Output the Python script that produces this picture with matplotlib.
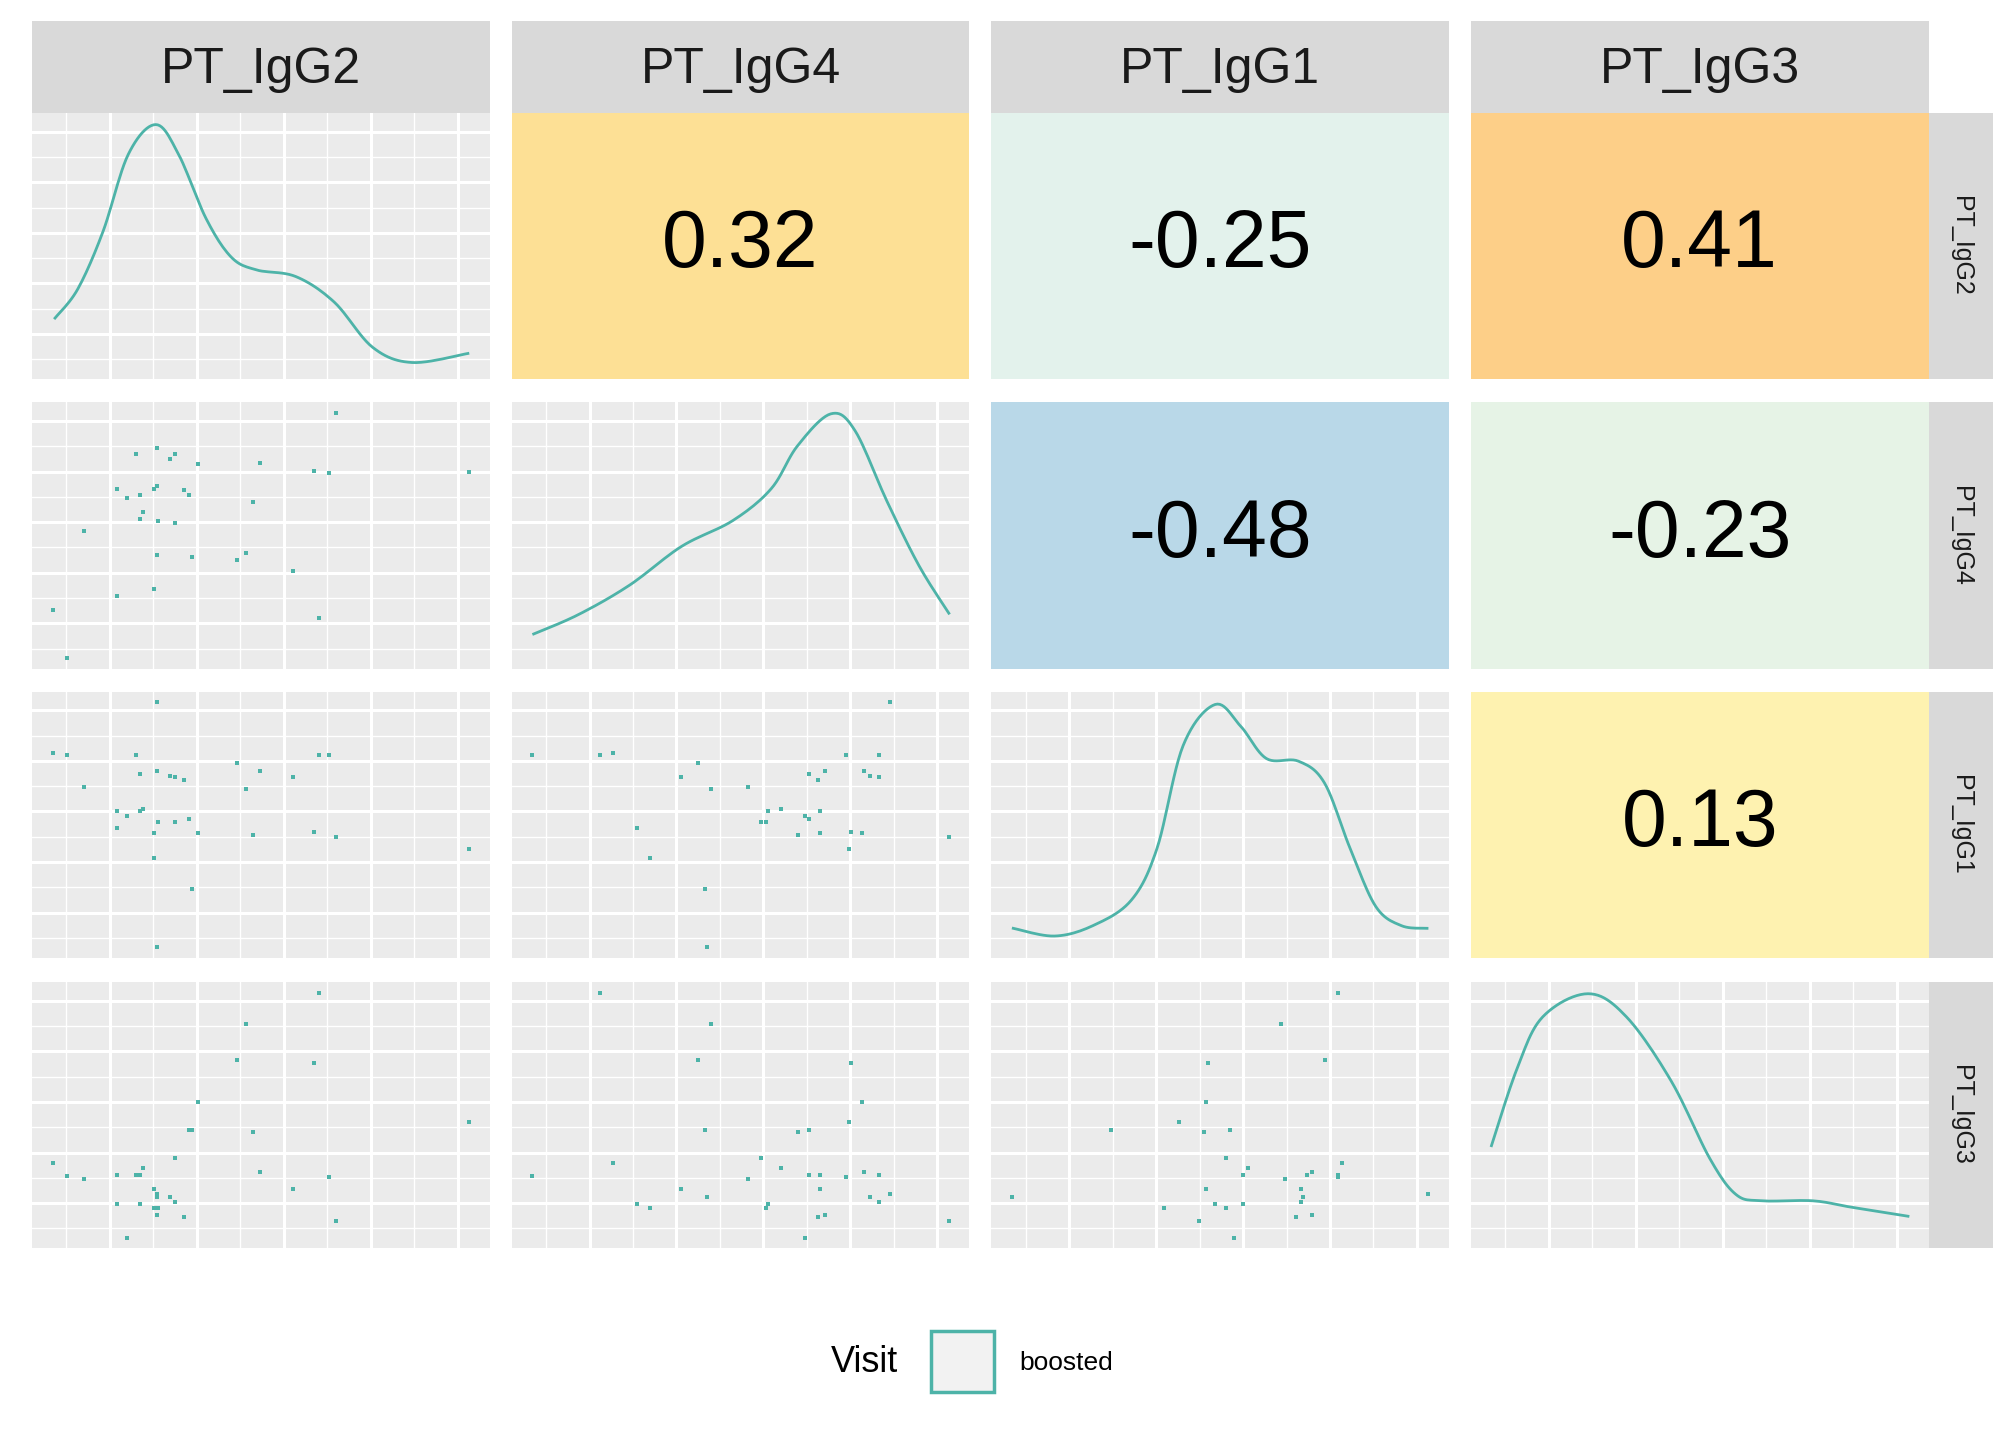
import numpy as np
from matplotlib import pyplot as plt
from matplotlib.patches import Rectangle

plt.rcParams['font.family'] = ['Liberation Sans', 'DejaVu Sans']

names = ['PT_IgG2', 'PT_IgG4', 'PT_IgG1', 'PT_IgG3']
teal = '#4DB3A8'

# sample values (arbitrary units)
igg2 = [260, 105, 121, 135, 131, 153, 201, 243, 255, 364, 90, 98, 108, 119, 121, 142, 146,
        196, 110, 108, 122, 135, 64, 121, 148, 183, 190, 227, 119, 90, 40, 247, 51]
igg4 = [199, 167, 172, 167, 163, 159, 160, 154, 152, 153, 140, 133, 135, 140, 142, 139, 135,
        130, 122, 116, 115, 113, 107, 88, 87, 84, 90, 76, 62, 56, 45, 39, 8]
igg1 = [93, 156, 197, 139, 140, 96, 144, 97, 156, 84, 113, 109, 142, 96, 144, 137, 107,
        95, 115, 113, 105, 105, 132, 8, 53, 150, 130, 139, 77, 100, 158, 156, 156]
igg3 = [21, 57, 42, 36, 40, 113, 59, 144, 55, 98, 57, 8, 57, 46, 26, 24, 92,
        90, 62, 34, 31, 70, 54, 40, 92, 146, 174, 46, 31, 34, 66, 198, 56]
data = [igg2, igg4, igg1, igg3]

corr = {(0, 1): 0.32, (0, 2): -0.25, (0, 3): 0.41, (1, 2): -0.48, (1, 3): -0.23, (2, 3): 0.13}
corr_col = {(0, 1): '#FDE095', (0, 2): '#E3F2EC', (0, 3): '#FDCF88',
            (1, 2): '#B9D8E8', (1, 3): '#E6F3E6', (2, 3): '#FEF2B0'}

# density curves, (x, y) as fractions of the panel
dens = [
    ([0.05, 0.10, 0.155, 0.21, 0.27, 0.32, 0.38, 0.435, 0.49, 0.576, 0.66, 0.744, 0.83, 0.952],
     [0.23, 0.34, 0.556, 0.845, 0.957, 0.845, 0.604, 0.459, 0.411, 0.386, 0.29, 0.12, 0.063, 0.097]),
    ([0.048, 0.146, 0.258, 0.371, 0.483, 0.567, 0.624, 0.697, 0.75, 0.82, 0.89, 0.955],
     [0.13, 0.203, 0.314, 0.459, 0.556, 0.676, 0.836, 0.957, 0.894, 0.628, 0.386, 0.208]),
    ([0.048, 0.138, 0.222, 0.306, 0.362, 0.419, 0.489, 0.545, 0.601, 0.671, 0.728, 0.784, 0.84, 0.896, 0.952],
     [0.111, 0.082, 0.121, 0.217, 0.411, 0.797, 0.952, 0.870, 0.749, 0.739, 0.657, 0.411, 0.193, 0.121, 0.111]),
    ([0.045, 0.101, 0.157, 0.256, 0.34, 0.438, 0.522, 0.579, 0.635, 0.747, 0.831, 0.955],
     [0.386, 0.676, 0.870, 0.957, 0.870, 0.628, 0.338, 0.203, 0.179, 0.179, 0.155, 0.121]),
]


def smooth(xs, ys, n=12):
    # catmull-rom through the read points, just for drawing
    p = np.column_stack([xs, ys])
    p = np.vstack([p[0], p, p[-1]])
    out = []
    for i in range(1, len(p) - 2):
        p0, p1, p2, p3 = p[i - 1], p[i], p[i + 1], p[i + 2]
        for t in np.linspace(0, 1, n, endpoint=False):
            out.append(0.5 * (2 * p1 + (-p0 + p2) * t + (2 * p0 - 5 * p1 + 4 * p2 - p3) * t ** 2
                              + (-p0 + 3 * p1 - 3 * p2 + p3) * t ** 3))
    out.append(p[-2])
    out = np.array(out)
    return out[:, 0], out[:, 1]


W, H = 1568, 1120
fig = plt.figure(figsize=(20.16, 14.4), dpi=100)
lefts = [25, 398, 771, 1144]
tops = [88, 313, 538, 764]
pw, ph = 356, 207


def norm(v):
    v = np.array(v, float)
    return (v - v.min()) / (v.max() - v.min())


nd = [norm(d) for d in data]
majors = [0.17, 0.36, 0.55, 0.74, 0.93]
minors = [0.075, 0.265, 0.455, 0.645, 0.835]

for r in range(4):
    for c in range(4):
        ax = fig.add_axes([lefts[c] / W, 1 - (tops[r] + ph) / H, pw / W, ph / H])
        ax.set_xticks([]); ax.set_yticks([])
        for s in ax.spines.values():
            s.set_visible(False)
        if c > r:
            ax.set_facecolor(corr_col[(r, c)])
            ax.text(0.5, 0.5, f'{corr[(r, c)]:.2f}', ha='center', va='center',
                    fontsize=58, transform=ax.transAxes)
            continue
        ax.set_facecolor('#EBEBEB')
        ax.set_xlim(0, 1); ax.set_ylim(0, 1)
        for m in majors:
            ax.axvline(m, color='white', lw=2.2, zorder=0)
            ax.axhline(m, color='white', lw=2.2, zorder=0)
        for m in minors:
            ax.axvline(m, color='white', lw=1.0, zorder=0)
            ax.axhline(m, color='white', lw=1.0, zorder=0)
        if r == c:
            sx, sy = smooth(*dens[r])
            ax.plot(sx, sy, color=teal, lw=2)
        else:
            ax.scatter(0.045 + 0.91 * nd[c], 0.04 + 0.92 * nd[r], s=5, marker='s',
                       color=teal, linewidths=0)

# strips
for c in range(4):
    ax = fig.add_axes([lefts[c] / W, 1 - 88 / H, pw / W, 72 / H])
    ax.set_facecolor('#D9D9D9'); ax.set_xticks([]); ax.set_yticks([])
    for s in ax.spines.values():
        s.set_visible(False)
    ax.text(0.5, 0.47, names[c], ha='center', va='center', fontsize=36,
            color='#1A1A1A', transform=ax.transAxes)
for r in range(4):
    ax = fig.add_axes([1500 / W, 1 - (tops[r] + ph) / H, 50 / W, ph / H])
    ax.set_facecolor('#D9D9D9'); ax.set_xticks([]); ax.set_yticks([])
    for s in ax.spines.values():
        s.set_visible(False)
    ax.text(0.5, 0.5, names[r], ha='center', va='center', fontsize=18, rotation=-90,
            color='#1A1A1A', transform=ax.transAxes)

# legend
fig.text(672 / W, 1 - 1060 / H, 'Visit', ha='center', va='center', fontsize=26)
fig.patches.append(Rectangle((724 / W, 1 - 1083 / H), 49 / W, 48 / H, transform=fig.transFigure,
                             facecolor='#F2F2F2', edgecolor=teal, lw=2.5))
fig.text(793 / W, 1 - 1060 / H, 'boosted', ha='left', va='center', fontsize=19)

fig.savefig('out.png', dpi=100)
